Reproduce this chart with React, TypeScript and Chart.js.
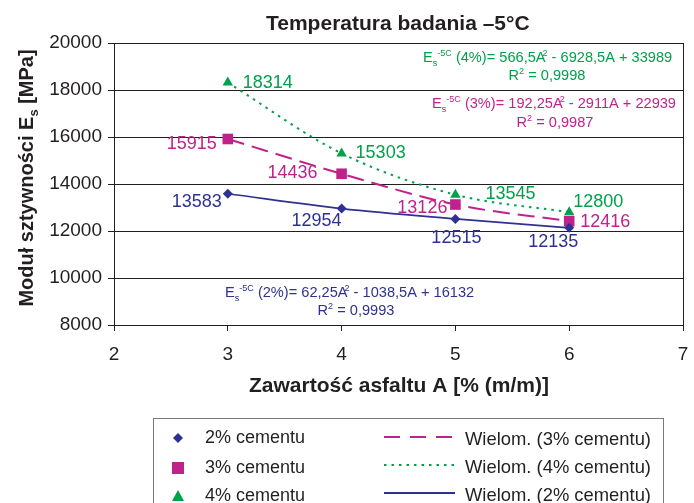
import React, { useEffect, useRef } from 'react';
import { Chart, registerables } from 'chart.js';

Chart.register(...registerables);

// Asphalt content [% (m/m)] and stiffness modulus at -5°C [MPa]
const asphaltContent = [3, 4, 5, 6];
const modulusCement2 = [13583, 12954, 12515, 12135];
const modulusCement3 = [15915, 14436, 13126, 12416];
const modulusCement4 = [18314, 15303, 13545, 12800];

const xTickValues = [2, 3, 4, 5, 6, 7];
const yTickValues = [8000, 10000, 12000, 14000, 16000, 18000, 20000];

const seriesNames = ['2% cementu', '3% cementu', '4% cementu'];
const trendNames = ['Wielom. (3% cementu)', 'Wielom. (4% cementu)', 'Wielom. (2% cementu)'];

const titleText = 'Temperatura badania \u20135\u00b0C';
const xTitleText = 'Zawartość asfaltu A [% (m/m)]';

const FONT = '"Liberation Sans", Arial, Helvetica, sans-serif';
const INK = '#231F20';
const NAVY = '#2E3192';
const MAGENTA = '#C0228C';
const GREEN = '#00A14B';

// Value-label placement around each point: [dx, dy, align]
type Place = [number, number, CanvasTextAlign];
const labelPlace2: Place[] = [[-6, 13, 'right'], [0, 17, 'right'], [1, 24, 'center'], [-16, 19, 'center']];
const labelPlace3: Place[] = [[-11, 10, 'right'], [-24, 4, 'right'], [-8, 8, 'right'], [11, 6, 'left']];
const labelPlace4: Place[] = [[15, 5, 'left'], [14, 5, 'left'], [30, 4, 'left'], [4, -5, 'left']];

type Seg = { t: string; s?: number; dy?: number; dx?: number };

function drawRich(
  ctx: CanvasRenderingContext2D,
  segs: Seg[],
  x: number,
  y: number,
  size: number,
  color: string,
  align: 'left' | 'center',
  bold = false
) {
  const fontFor = (g: Seg) => `${bold ? 'bold ' : ''}${size * (g.s ?? 1)}px ${FONT}`;
  const widths = segs.map((g) => {
    ctx.font = fontFor(g);
    return ctx.measureText(g.t).width + (g.dx ?? 0);
  });
  const total = widths.reduce((a, b) => a + b, 0);
  let cx = align === 'center' ? x - total / 2 : x;
  ctx.fillStyle = color;
  ctx.textAlign = 'left';
  ctx.textBaseline = 'alphabetic';
  segs.forEach((g, i) => {
    ctx.font = fontFor(g);
    ctx.fillText(g.t, cx + (g.dx ?? 0), y + (g.dy ?? 0));
    cx += widths[i];
  });
}

const eqSegs = (pct: string, body1: string, body2: string): Seg[] => [
  { t: 'E' },
  { t: 's', s: 0.62, dy: 4 },
  { t: '-5C', s: 0.62, dy: -6 },
  { t: ` (${pct})= ${body1}` },
  { t: '2', s: 0.62, dy: -6, dx: -3 },
  { t: body2 },
];
const r2Segs = (v: string): Seg[] => [{ t: 'R' }, { t: '2', s: 0.62, dy: -6 }, { t: ` = ${v}` }];

const pts = (ys: number[]) => asphaltContent.map((x, i) => ({ x, y: ys[i] }));

const decorPlugin = {
  id: 'decor',
  afterDatasetsDraw(chart: any) {
    const ctx: CanvasRenderingContext2D = chart.ctx;
    const { chartArea, scales } = chart;
    ctx.save();

    // right frame edge
    ctx.strokeStyle = INK;
    ctx.lineWidth = 1;
    ctx.beginPath();
    ctx.moveTo(Math.round(chartArea.right) + 0.5, chartArea.top);
    ctx.lineTo(Math.round(chartArea.right) + 0.5, chartArea.bottom);
    ctx.stroke();

    // point value labels
    const groups: [number[], Place[], string][] = [
      [modulusCement2, labelPlace2, NAVY],
      [modulusCement3, labelPlace3, MAGENTA],
      [modulusCement4, labelPlace4, GREEN],
    ];
    ctx.font = `18px ${FONT}`;
    ctx.textBaseline = 'alphabetic';
    groups.forEach(([vals, places, color]) => {
      ctx.fillStyle = color;
      vals.forEach((v, i) => {
        const px = scales.x.getPixelForValue(asphaltContent[i]);
        const py = scales.y.getPixelForValue(v);
        const [dx, dy, align] = places[i];
        ctx.textAlign = align;
        ctx.fillText(String(v), px + dx, py + dy);
      });
    });

    // trend equations
    const eqSize = 14.6;
    drawRich(ctx, eqSegs('4%', '566,5A', ' - 6928,5A + 33989'), 423, 62, eqSize, GREEN, 'left');
    drawRich(ctx, r2Segs('0,9998'), 547, 80, eqSize, GREEN, 'center');
    drawRich(ctx, eqSegs('3%', '192,25A', ' - 2911A + 22939'), 432, 108, eqSize, MAGENTA, 'left');
    drawRich(ctx, r2Segs('0,9987'), 555, 127, eqSize, MAGENTA, 'center');
    drawRich(ctx, eqSegs('2%', '62,25A', ' - 1038,5A + 16132'), 225, 297, eqSize, NAVY, 'left');
    drawRich(ctx, r2Segs('0,9993'), 356, 315, eqSize, NAVY, 'center');

    // chart title and axis titles
    ctx.fillStyle = INK;
    ctx.textAlign = 'left';
    ctx.font = `bold 21px ${FONT}`;
    ctx.fillText(titleText, 266, 30);
    ctx.font = `bold 21px ${FONT}`;
    ctx.fillText(xTitleText, 249, 392);

    ctx.save();
    ctx.translate(33, 178);
    ctx.rotate(-Math.PI / 2);
    drawRich(ctx, [{ t: 'Moduł sztywności E' }, { t: 's', s: 0.65, dy: 5 }, { t: ' [MPa]' }], 0, 0, 20, INK, 'center', true);
    ctx.restore();

    // legend
    ctx.strokeStyle = '#7A7A7A';
    ctx.lineWidth = 1;
    ctx.strokeRect(153.5, 418.5, 510, 100);

    const rowsL = [438, 468, 496];
    // diamond
    ctx.fillStyle = NAVY;
    ctx.beginPath();
    ctx.moveTo(178, rowsL[0] - 5);
    ctx.lineTo(183, rowsL[0]);
    ctx.lineTo(178, rowsL[0] + 5);
    ctx.lineTo(173, rowsL[0]);
    ctx.closePath();
    ctx.fill();
    // square
    ctx.fillStyle = MAGENTA;
    ctx.fillRect(172, rowsL[1] - 6, 12, 12);
    // triangle
    ctx.fillStyle = GREEN;
    ctx.beginPath();
    ctx.moveTo(178, rowsL[2] - 6);
    ctx.lineTo(184, rowsL[2] + 5);
    ctx.lineTo(172, rowsL[2] + 5);
    ctx.closePath();
    ctx.fill();

    ctx.font = `18px ${FONT}`;
    ctx.fillStyle = INK;
    ctx.textAlign = 'left';
    ctx.textBaseline = 'middle';
    seriesNames.forEach((n, i) => ctx.fillText(n, 205, rowsL[i]));

    const rowsR = [437, 465, 493];
    const styles: [string, number[], number][] = [
      [MAGENTA, [16, 10], 2],
      [GREEN, [2.5, 5], 2],
      [NAVY, [], 2],
    ];
    styles.forEach(([c, dash, w], i) => {
      ctx.strokeStyle = c;
      ctx.lineWidth = w;
      ctx.setLineDash(dash);
      ctx.beginPath();
      ctx.moveTo(384, rowsR[i]);
      ctx.lineTo(455, rowsR[i]);
      ctx.stroke();
    });
    ctx.setLineDash([]);
    ctx.fillStyle = INK;
    ctx.font = `18.4px ${FONT}`;
    trendNames.forEach((n, i) => ctx.fillText(n, 465, rowsR[i] + 3));

    ctx.restore();
  },
};

export default function App() {
  const canvasRef = useRef<HTMLCanvasElement | null>(null);

  useEffect(() => {
    if (!canvasRef.current) return;
    const chart = new Chart(canvasRef.current, {
      type: 'scatter',
      data: {
        datasets: [
          {
            label: seriesNames[0],
            data: pts(modulusCement2),
            pointStyle: 'rectRot',
            pointRadius: 5,
            backgroundColor: NAVY,
            borderColor: NAVY,
            borderWidth: 0,
            showLine: false,
            order: 0,
          },
          {
            label: seriesNames[1],
            data: pts(modulusCement3),
            pointStyle: 'rect',
            pointRadius: 7.5,
            backgroundColor: MAGENTA,
            borderColor: MAGENTA,
            borderWidth: 0,
            showLine: false,
            order: 0,
          },
          {
            label: seriesNames[2],
            data: pts(modulusCement4),
            pointStyle: 'triangle',
            pointRadius: 6,
            backgroundColor: GREEN,
            borderColor: GREEN,
            borderWidth: 0,
            showLine: false,
            order: 0,
          },
          {
            label: trendNames[0],
            data: pts(modulusCement3),
            showLine: true,
            pointRadius: 0,
            borderColor: MAGENTA,
            borderWidth: 2,
            borderDash: [17, 8],
            cubicInterpolationMode: 'monotone',
            fill: false,
            order: 1,
          },
          {
            label: trendNames[1],
            data: pts(modulusCement4),
            showLine: true,
            pointRadius: 0,
            borderColor: GREEN,
            borderWidth: 2,
            borderDash: [2.5, 5],
            cubicInterpolationMode: 'monotone',
            fill: false,
            order: 1,
          },
          {
            label: trendNames[2],
            data: pts(modulusCement2),
            showLine: true,
            pointRadius: 0,
            borderColor: NAVY,
            borderWidth: 1.6,
            cubicInterpolationMode: 'monotone',
            fill: false,
            order: 1,
          },
        ],
      } as any,
      options: {
        animation: false,
        responsive: false,
        maintainAspectRatio: false,
        layout: { padding: { top: 43, right: 11, left: 0, bottom: 0 } },
        plugins: {
          legend: { display: false },
          title: { display: false },
          tooltip: { enabled: false },
        },
        scales: {
          x: {
            type: 'linear',
            min: 2,
            max: 7,
            afterBuildTicks: (s: any) => {
              s.ticks = xTickValues.map((value) => ({ value }));
            },
            afterFit: (s: any) => {
              s.height = 178;
              s.paddingLeft = 0;
              s.paddingRight = 0;
            },
            grid: { drawOnChartArea: false, drawTicks: true, tickLength: 6, color: INK },
            border: { display: true, color: INK, width: 1 },
            ticks: {
              color: INK,
              padding: 12,
              font: { family: FONT, size: 19 },
              callback: (v: any) => String(v),
            },
          },
          y: {
            type: 'linear',
            min: 8000,
            max: 20000,
            afterBuildTicks: (s: any) => {
              s.ticks = yTickValues.map((value) => ({ value }));
            },
            afterFit: (s: any) => {
              s.width = 114;
            },
            grid: { drawOnChartArea: true, drawTicks: true, tickLength: 6, color: INK, lineWidth: 1 },
            border: { display: true, color: INK, width: 1 },
            ticks: {
              color: INK,
              padding: 6,
              font: { family: FONT, size: 19 },
              callback: (v: any) => String(v),
            },
          },
        },
      } as any,
      plugins: [decorPlugin],
    });
    return () => chart.destroy();
  }, []);

  return (
    <div style={{ position: 'absolute', left: 0, top: 0, width: 694, height: 503, background: '#fff' }}>
      <canvas ref={canvasRef} width={694} height={503} style={{ width: 694, height: 503 }} />
    </div>
  );
}
